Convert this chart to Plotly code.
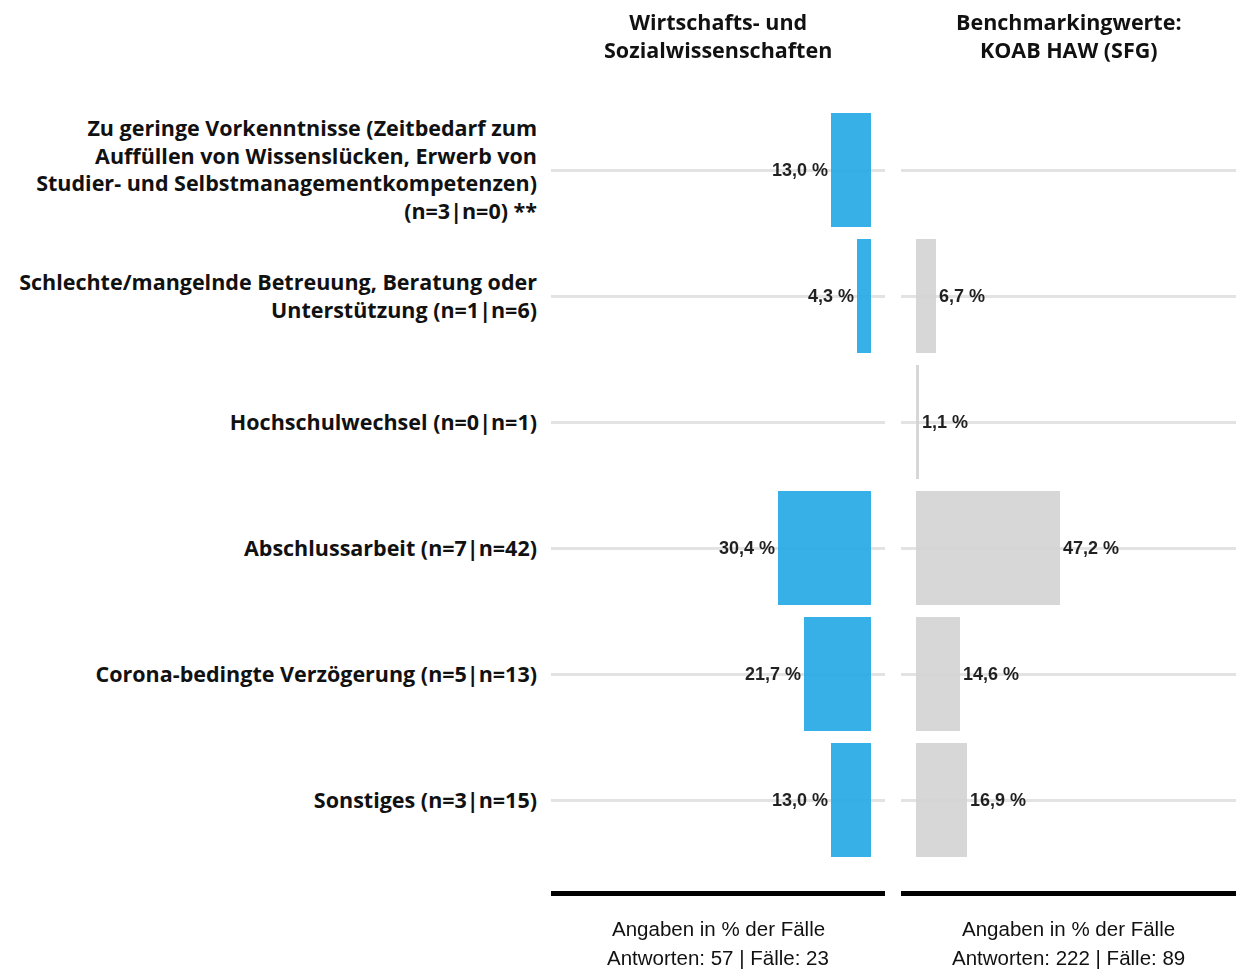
import plotly.graph_objects as go

categories = [
    "Zu geringe Vorkenntnisse (Zeitbedarf zum<br>Auffüllen von Wissenslücken, Erwerb von<br>Studier- und Selbstmanagementkompetenzen)<br>(n=3|n=0) **",
    "Schlechte/mangelnde Betreuung, Beratung oder<br>Unterstützung (n=1|n=6)",
    "Hochschulwechsel (n=0|n=1)",
    "Abschlussarbeit (n=7|n=42)",
    "Corona-bedingte Verzögerung (n=5|n=13)",
    "Sonstiges (n=3|n=15)",
]
left_values = [13.0, 4.3, None, 30.4, 21.7, 13.0]
right_values = [None, 6.7, 1.1, 47.2, 14.6, 16.9]

left_title = "Wirtschafts- und<br>Sozialwissenschaften"
right_title = "Benchmarkingwerte:<br>KOAB HAW (SFG)"
footer_line1 = ["Angaben in % der Fälle", "Angaben in % der Fälle"]
footer_line2 = ["Antworten: 57 | Fälle: 23", "Antworten: 222 | Fälle: 89"]

BLUE = "#27aae6"
GRAY = "#d4d4d4"
LABEL_FONT = "'Open Sans', Lato, sans-serif"
VALUE_FONT = "'Liberation Sans', Arial, sans-serif"
FOOT_FONT = "'Liberation Sans', Arial, sans-serif"


def fmt(v):
    return "" if v is None else f"{v:.1f} %".replace(".", ",")


# page has an 8px body margin
OFF = 8
FW, FH = 1245 - OFF, 969 - OFF
T, B = 107 - OFF, FH - (891 - OFF)
PH = FH - T - B


def px(x):
    return (x - OFF) / FW


def py(y):
    return 1 - ((y - OFF) - T) / PH


value_font = dict(family=VALUE_FONT, size=18, color="#111111", weight="bold")

fig = go.Figure()
fig.add_trace(go.Bar(
    x=left_values, y=categories, orientation="h", xaxis="x", yaxis="y",
    marker=dict(color=BLUE, line=dict(width=0)), opacity=0.93,
    text=[fmt(v) for v in left_values], textposition="outside",
    textfont=value_font,
    cliponaxis=False, width=0.905, showlegend=False,
))
fig.add_trace(go.Bar(
    x=right_values, y=categories, orientation="h", xaxis="x2", yaxis="y2",
    marker=dict(color=GRAY, line=dict(width=0)), opacity=0.93,
    text=[fmt(v) for v in right_values], textposition="outside",
    textfont=value_font,
    cliponaxis=False, width=0.905, showlegend=False,
))

d1 = [px(551), px(885)]
d2 = [px(901), px(1236)]
yr = [5.722, -0.5]
xr = [-4.75, 104.75]

title_font = dict(family=LABEL_FONT, size=21.5, color="#111111", weight="bold")
foot_font = dict(family=FOOT_FONT, size=20.5, color="#111111")

annotations = []
for title, d in ((left_title, d1), (right_title, d2)):
    annotations.append(dict(text=title, x=sum(d) / 2, y=py(36), xref="paper", yref="paper",
                            xanchor="center", yanchor="middle", showarrow=False, font=title_font))
for i, d in enumerate((d1, d2)):
    annotations.append(dict(text=footer_line1[i], x=sum(d) / 2, y=py(928), xref="paper", yref="paper",
                            xanchor="center", yanchor="middle", showarrow=False, font=foot_font))
    annotations.append(dict(text=footer_line2[i], x=sum(d) / 2, y=py(957), xref="paper", yref="paper",
                            xanchor="center", yanchor="middle", showarrow=False, font=foot_font))

fig.update_layout(
    width=FW, height=FH,
    margin=dict(l=0, r=0, t=T, b=B),
    paper_bgcolor="white", plot_bgcolor="white",
    bargap=0,
    xaxis=dict(domain=d1, range=xr[::-1], showticklabels=False, showgrid=False,
               zeroline=False, showline=True, linewidth=5, linecolor="black",
               anchor="y", fixedrange=True),
    xaxis2=dict(domain=d2, range=xr, showticklabels=False, showgrid=False,
                zeroline=False, showline=True, linewidth=5, linecolor="black",
                anchor="y2", fixedrange=True),
    yaxis=dict(range=yr, showgrid=True, gridcolor="#e3e3e3", gridwidth=3,
               zeroline=False, showline=False, ticks="", ticklabelstandoff=13,
               tickfont=dict(family=LABEL_FONT, size=21.5, color="#111111", weight="bold"),
               anchor="x", categoryorder="array", categoryarray=categories),
    yaxis2=dict(range=yr, showgrid=True, gridcolor="#e3e3e3", gridwidth=3,
                zeroline=False, showline=False, showticklabels=False, ticks="",
                anchor="x2", matches="y", categoryorder="array", categoryarray=categories),
    annotations=annotations,
)

fig.write_html("out.html")
